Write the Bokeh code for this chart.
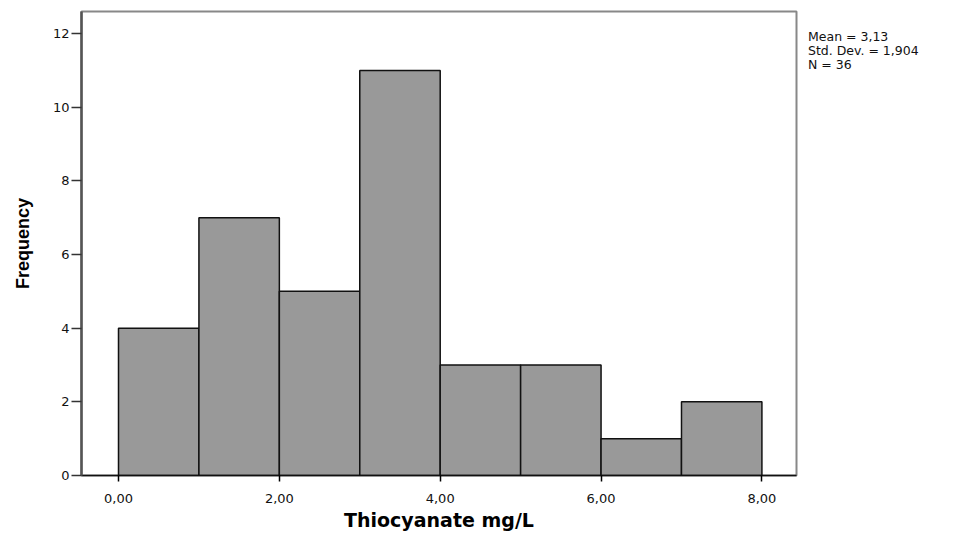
from bokeh.plotting import figure
from bokeh.models import Range1d, FixedTicker, Div
from bokeh.layouts import row
from bokeh.embed import file_html
from bokeh.resources import INLINE

bin_left = [0, 1, 2, 3, 4, 5, 6, 7]
bin_right = [1, 2, 3, 4, 5, 6, 7, 8]
counts = [4, 7, 5, 11, 3, 3, 1, 2]
x_ticks = [0, 2, 4, 6, 8]
x_tick_labels = ["0,00", "2,00", "4,00", "6,00", "8,00"]
y_ticks = [0, 2, 4, 6, 8, 10, 12]
stats_lines = ["Mean = 3,13", "Std. Dev. = 1,904", "N = 36"]

p = figure(width=800, height=533, output_backend="svg", toolbar_location=None,
           x_range=Range1d(-0.46, 8.43), y_range=Range1d(0, 12.6),
           min_border_left=81, min_border_top=11, min_border_right=4, min_border_bottom=48)
p.xgrid.visible = False
p.ygrid.visible = False
p.outline_line_color = "#888888"
p.outline_line_width = 2

p.quad(left=bin_left, right=bin_right, bottom=0, top=counts,
       fill_color="#999999", line_color="#111111", line_width=1.5)

p.xaxis.ticker = FixedTicker(ticks=x_ticks)
p.xaxis.major_label_overrides = {t: l for t, l in zip(x_ticks, x_tick_labels)}
p.xaxis.minor_tick_line_color = None
p.xaxis.axis_line_color = "#111111"
p.xaxis.axis_line_width = 1.5
p.xaxis.major_tick_out = 6
p.xaxis.major_tick_in = 0
p.xaxis.major_tick_line_width = 1.5
p.xaxis.major_label_text_font = "DejaVu Sans"
p.xaxis.major_label_text_font_size = "13px"
p.xaxis.major_label_text_color = "#111111"
p.xaxis.major_label_standoff = 12
p.xaxis.axis_label = "Thiocyanate mg/L"
p.xaxis.axis_label_text_font = "DejaVu Sans"
p.xaxis.axis_label_text_font_style = "bold"
p.xaxis.axis_label_text_font_size = "19px"
p.xaxis.axis_label_text_color = "#000000"
p.xaxis.axis_label_standoff = 3

p.yaxis.ticker = FixedTicker(ticks=y_ticks)
p.yaxis.minor_tick_line_color = None
p.yaxis.axis_line_color = "#555555"
p.yaxis.axis_line_width = 2.5
p.yaxis.major_tick_out = 10
p.yaxis.major_tick_in = 0
p.yaxis.major_tick_line_width = 1.5
p.yaxis.major_tick_line_color = "#333333"
p.yaxis.major_label_text_font = "DejaVu Sans"
p.yaxis.major_label_text_font_size = "13px"
p.yaxis.major_label_text_color = "#111111"
p.yaxis.major_label_standoff = 2
p.yaxis.axis_label = "Frequency"
p.yaxis.axis_label_text_font = "Liberation Sans"
p.yaxis.axis_label_text_font_style = "bold"
p.yaxis.axis_label_text_font_size = "18px"
p.yaxis.axis_label_text_color = "#000000"
p.yaxis.axis_label_standoff = 17

stats = Div(text="<br>".join(stats_lines), width=145,
            margin=(30, 0, 0, 8),
            styles={"font-family": "DejaVu Sans", "font-size": "12.5px",
                    "line-height": "14px", "color": "#111111"})

layout = row(p, stats)
open("out.html", "w").write(file_html(layout, INLINE))
